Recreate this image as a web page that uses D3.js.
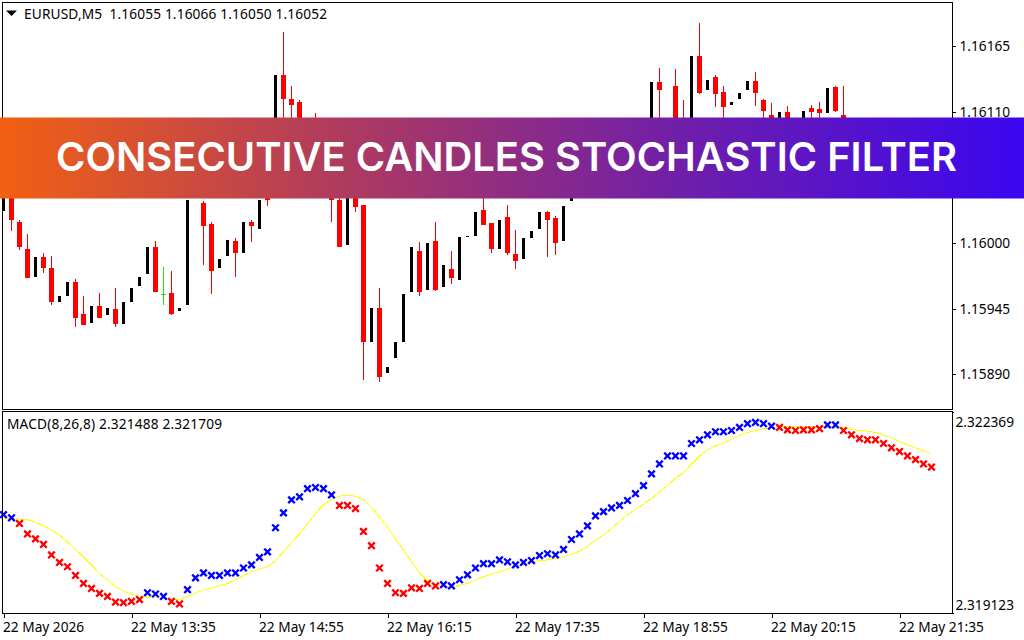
<!DOCTYPE html>
<html>
<head>
<meta charset="utf-8">
<script src="https://cdn.jsdelivr.net/npm/d3@7"></script>
<style>
  html, body { margin: 0; padding: 0; background: #fff; }
  svg { display: block; }
  text { font-family: "Noto Sans", sans-serif; font-size: 13.7px; fill: #000; }
</style>
</head>
<body>
<svg id="chart" width="1024" height="640"></svg>
<script>
// candles, in points above 1.16000 (the ones behind the banner are estimates)
var opens = [27,49,18,-5,-28,-12,-21,-49,-44,-33,
  -59,-67,-53,-60,-55,-68,-49,-36,-26,-3,
  -43,-42,-57,-52,44,34,16,-21,-11,2,
  -8,18,12,49,50,141,121,118,80,100,
  60,52,36,-2,44,32,-83,-54,-109,-96,
  -83,-41,-7,-39,2,-37,-22,-31,5,6,
  28,17,-5,22,-9,-13,4,12,26,21,
  2,35,44,56,52,66,60,74,70,84,
  80,92,135,100,132,100,95,157,128,139,
  127,116,121,128,136,120,107,91,110,95,
  95,113,112,109,131,107,91,85,80,75,
  78,70,66,62,66,58,55];
var highs = [44,55,19,8,-12,-8,-11,-44,-33,-30,
  -44,-53,-42,-54,-38,-49,-38,-28,-3,2,
  -20,-23,-54,36,72,35,18,-13,3,4,
  18,19,36,53,141,177,132,120,100,109,
  80,70,38,44,50,32,-54,-38,-104,-83,
  -43,-3,1,0,18,-18,-7,5,6,26,
  53,17,19,32,11,4,10,26,27,23,
  31,44,60,64,70,72,78,84,88,92,
  96,135,147,103,146,120,157,184,137,141,
  132,118,126,136,143,121,117,110,115,104,
  111,116,118,130,132,132,100,92,88,84,
  86,76,72,70,70,62,66];
var lows = [27,10,-6,-29,-28,-25,-52,-49,-44,-70,
  -69,-67,-63,-60,-70,-68,-49,-36,-26,-41,
  -52,-60,-57,-52,42,-18,-43,-21,-11,-28,
  -8,1,12,31,50,99,101,78,75,60,
  45,18,-3,-2,26,-115,-83,-116,-109,-96,
  -83,-41,-44,-39,-40,-37,-34,-31,5,6,
  15,-8,-5,-10,-22,-13,4,12,-12,-10,
  2,35,42,50,48,58,56,66,64,76,
  74,92,95,90,78,82,95,125,128,114,
  95,116,121,128,115,95,91,91,86,88,
  95,95,99,109,110,78,80,76,72,70,
  66,62,60,56,56,52,50];
var closes = [44,19,-3,-29,-12,-21,-49,-44,-33,-63,
  -69,-53,-63,-54,-68,-49,-38,-28,-3,-41,
  -43,-59,-54,36,66,14,-23,-13,3,-8,
  18,14,36,36,141,121,116,91,100,70,
  48,36,-3,44,30,-83,-54,-112,-104,-83,
  -43,-3,-41,0,-39,-18,-29,5,6,26,
  15,-5,19,-8,-15,4,10,26,19,0,
  31,44,56,52,66,60,74,70,84,80,
  92,135,128,95,86,90,157,126,137,125,
  114,118,126,136,126,111,99,110,95,100,
  111,110,109,130,111,91,85,80,75,78,
  70,66,62,66,58,55,52];

// macd and signal, in 0.00001 above 2.319
var macdValues = [171,166,157,140,132,123,106,94,87,73,
  60,52,44,39,30,29,31,34,45,43,
  39,31,27,50,69,77,73,73,77,77,
  85,90,102,111,150,174,195,200,213,215,
  213,203,186,186,181,144,121,85,60,45,
  44,53,52,60,56,58,56,66,74,85,
  92,92,98,95,90,94,97,105,108,106,
  115,131,140,153,169,176,182,186,194,205,
  218,237,253,266,266,266,286,292,300,305,
  305,307,312,318,320,318,314,312,308,307,
  308,308,310,316,316,307,300,294,292,292,
  286,279,273,266,260,253,248];
var signalValues = [165,165,164,163,159,153,146,138,127,115,
  103,90,76,66,55,48,43,39,38,37,
  36,35,34,39,45,49,53,56,60,66,
  73,79,83,87,97,111,126,140,156,173,
  187,196,201,202,201,195,183,167,151,132,
  114,95,77,64,57,55,54,57,60,66,
  71,75,79,83,88,91,95,97,98,100,
  103,107,112,120,130,138,149,160,171,180,
  188,197,208,218,230,239,253,266,276,282,
  287,293,299,304,307,310,312,313,313,313,
  313,313,312,312,312,311,309,307,306,304,
  300,295,289,284,279,274,270];

var priceTicks = [1.16165, 1.16110, 1.16055, 1.16000, 1.15945, 1.15890];
var macdTicks = [2.322369, 2.319123];
var timeTickBars = [0, 16, 32, 48, 64, 80, 96, 112];
var timeLabels = ["22 May 2026", "22 May 13:35", "22 May 14:55", "22 May 16:15",
  "22 May 17:35", "22 May 18:55", "22 May 20:15", "22 May 21:35"];

var svg = d3.select("#chart");
var bars = d3.range(opens.length);

// step 1: scales
var x = d3.scaleLinear().domain([0, 116]).range([3.5, 931.5]);
var yPrice = d3.scaleLinear().domain([1.15861, 1.16202]).range([409, 2]);
var yMacd = d3.scaleLinear().domain([2.319123, 2.322369]).range([613, 412]);
var price = function(p) { return yPrice(1.16 + p / 100000); };
var macdY = function(v) { return yMacd(2.319 + v / 100000); };

// step 2: candles
var candleColor = function(i) {
  if (closes[i] > opens[i]) return "#000";
  if (closes[i] < opens[i]) return "#f00";
  return "#1fe01f";
};
var candles = svg.append("g").attr("shape-rendering", "crispEdges");
candles.selectAll(".wick").data(bars).enter().append("rect")
  .attr("class", "wick")
  .attr("x", function(i) { return Math.floor(x(i)); })
  .attr("width", 1)
  .attr("y", function(i) { return Math.round(price(highs[i])); })
  .attr("height", function(i) { return Math.max(1, Math.round(price(lows[i])) - Math.round(price(highs[i]))); })
  .attr("fill", candleColor);
candles.selectAll(".body").data(bars).enter().append("rect")
  .attr("class", "body")
  .attr("x", function(i) { return Math.floor(x(i)) - (closes[i] > opens[i] ? 1 : 2); })
  .attr("width", function(i) { return closes[i] > opens[i] ? 3 : 5; })
  .attr("y", function(i) { return Math.round(price(Math.max(opens[i], closes[i]))); })
  .attr("height", function(i) {
    var top = Math.round(price(Math.max(opens[i], closes[i])));
    return Math.max(1, Math.round(price(Math.min(opens[i], closes[i]))) - top);
  })
  .attr("fill", candleColor);

// step 3: signal line and macd crosses
var signalLine = d3.line()
  .x(function(i) { return x(i); })
  .y(function(i) { return macdY(signalValues[i]); });
svg.append("path").datum(bars)
  .attr("d", signalLine)
  .attr("fill", "none")
  .attr("stroke", "#ffff00")
  .attr("stroke-width", 1)
  .attr("shape-rendering", "crispEdges");

var cross = d3.symbol().type(d3.symbolTimes).size(30);
svg.selectAll(".cross").data(bars).enter().append("path")
  .attr("class", "cross")
  .attr("d", cross)
  .attr("transform", function(i) { return "translate(" + x(i) + "," + macdY(macdValues[i]) + ")"; })
  .attr("fill", "none")
  .attr("stroke", function(i) { return macdValues[i] > signalValues[i] ? "#0000ff" : "#ff0000"; })
  .attr("stroke-width", 2.3);

// step 4: pane frames
var frames = svg.append("g").attr("shape-rendering", "crispEdges")
  .attr("fill", "none").attr("stroke", "#000");
frames.append("rect").attr("x", 2.5).attr("y", 2.5).attr("width", 950).attr("height", 407);
frames.append("rect").attr("x", 2.5).attr("y", 411.5).attr("width", 950).attr("height", 202);

// step 5: axes
var priceAxis = d3.axisRight(yPrice).tickValues(priceTicks).tickSize(3).tickPadding(4)
  .tickFormat(d3.format(".5f"));
var priceG = svg.append("g").attr("transform", "translate(952.5,0)").call(priceAxis);
priceG.select(".domain").remove();

var macdAxis = d3.axisRight(yMacd).tickValues(macdTicks).tickSize(1).tickPadding(2)
  .tickFormat(d3.format(".6f"));
var macdG = svg.append("g").attr("transform", "translate(952.5,0)").call(macdAxis);
macdG.select(".domain").remove();
macdG.selectAll("text").attr("dy", function(d) { return d > 2.32 ? "14px" : "-4px"; });

var timeAxis = d3.axisBottom(x).tickValues(timeTickBars).tickSize(4).tickPadding(5)
  .tickFormat(function(d, i) { return timeLabels[i]; });
var timeG = svg.append("g").attr("transform", "translate(0,613.5)").call(timeAxis);
timeG.select(".domain").remove();
timeG.selectAll("text").attr("text-anchor", "start").attr("x", -1);

svg.selectAll(".tick text").style("font-family", '"Noto Sans", sans-serif').style("font-size", "13.7px");
svg.selectAll(".tick line").attr("shape-rendering", "crispEdges");

// step 6: legends
svg.append("path").attr("d", "M6,10.5 L17,10.5 L11.5,16 Z").attr("fill", "#000");
svg.append("text").attr("x", 24).attr("y", 19)
  .attr("textLength", 303)
  .attr("xml:space", "preserve")
  .text("EURUSD,M5  1.16055 1.16066 1.16050 1.16052");
svg.append("text").attr("x", 7).attr("y", 429)
  .attr("textLength", 215)
  .text("MACD(8,26,8) 2.321488 2.321709");

// step 7: banner across the chart
var grad = svg.append("defs").append("linearGradient").attr("id", "bannerFill");
grad.append("stop").attr("offset", "0%").attr("stop-color", "#f26013");
grad.append("stop").attr("offset", "33%").attr("stop-color", "#af3b5e");
grad.append("stop").attr("offset", "66%").attr("stop-color", "#701fa8");
grad.append("stop").attr("offset", "100%").attr("stop-color", "#3b06f0");
svg.append("rect").attr("x", 0).attr("y", 117.5).attr("width", 1024).attr("height", 81)
  .attr("fill", "url(#bannerFill)");
svg.append("text").attr("x", 56).attr("y", 171)
  .attr("textLength", 901).attr("lengthAdjust", "spacingAndGlyphs")
  .style("font-family", 'Inter, sans-serif')
  .style("font-size", "40px").style("font-weight", 600).style("fill", "#fff")
  .text("CONSECUTIVE CANDLES STOCHASTIC FILTER");
</script>
</body>
</html>
